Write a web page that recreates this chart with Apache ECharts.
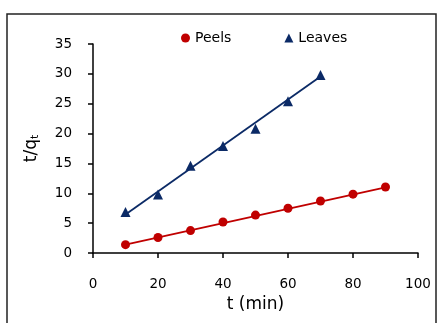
<!DOCTYPE html>
<html><head><meta charset="utf-8">
<script src="https://cdn.jsdelivr.net/npm/echarts@6/dist/echarts.min.js"></script>
<style>html,body{margin:0;padding:0;background:#fff;}#c{width:437px;height:323px;}</style>
</head><body><div id="c"></div>
<script>
const times = [10, 20, 30, 40, 50, 60, 70, 80, 90];
const peelsValues = [1.4, 2.6, 3.75, 5.2, 6.35, 7.5, 8.7, 9.85, 11.05];
const leavesTimes = [10, 20, 30, 40, 50, 60, 70];
const leavesValues = [6.85, 9.8, 14.6, 17.9, 20.8, 25.4, 29.8];
const peelsFitEnds = [[10, 1.4], [90, 11.0]];
const leavesFitEnds = [[10, 6.45], [70, 29.55]];
const xTicks = [0, 20, 40, 60, 80, 100];
const yTicks = [0, 5, 10, 15, 20, 25, 30, 35];

const FONT = 'DejaVu Sans';
const RED = '#C00000';
const NAVY = '#0B2A66';
const chart = echarts.init(document.getElementById('c'), null, {renderer: 'canvas'});
chart.setOption({
  animation: false,
  backgroundColor: '#fff',
  graphic: [{
    type: 'rect', shape: {x: 7, y: 14, width: 429, height: 330},
    style: {fill: 'none', stroke: '#222', lineWidth: 1.5}, z: -1
  }],
  grid: {left: 93, top: 44, right: 19, bottom: 70},
  legend: {
    left: 176, top: 26, itemWidth: 9, itemHeight: 9, itemGap: 53,
    textStyle: {fontFamily: FONT, fontSize: 14, color: '#000'},
    data: [{name: 'Peels', icon: 'circle'}, {name: 'Leaves', icon: 'triangle'}]
  },
  xAxis: {
    type: 'value', min: xTicks[0], max: xTicks[xTicks.length - 1], interval: 20,
    name: 't (min)', nameLocation: 'middle', nameGap: 35,
    nameTextStyle: {fontFamily: FONT, fontSize: 17, color: '#000'},
    axisLine: {show: true, onZero: false, lineStyle: {color: '#000', width: 1.5}},
    axisTick: {show: true, length: 5, lineStyle: {color: '#000', width: 1.5}},
    axisLabel: {margin: 24, fontFamily: FONT, fontSize: 13.5, color: '#000'},
    splitLine: {show: false}
  },
  yAxis: {
    type: 'value', min: yTicks[0], max: yTicks[yTicks.length - 1], interval: 5,
    name: '{m|t/q}{s|t}', nameLocation: 'middle', nameGap: 52,
    nameTextStyle: {fontFamily: FONT, fontSize: 17, color: '#000',
      rich: {m: {fontFamily: FONT, fontSize: 17, color: '#000'},
             s: {fontFamily: FONT, fontSize: 11, color: '#000', verticalAlign: 'bottom', padding: [8, 0, 0, 0]}}},
    axisLine: {show: true, onZero: false, lineStyle: {color: '#000', width: 1.5}},
    axisTick: {show: true, length: 5, lineStyle: {color: '#000', width: 1.5}},
    axisLabel: {margin: 21, fontFamily: FONT, fontSize: 13.5, color: '#000'},
    splitLine: {show: false}
  },
  series: [
    {name: 'PeelsFit', type: 'line', data: peelsFitEnds, showSymbol: false, symbol: 'none',
     lineStyle: {color: RED, width: 1.8}, silent: true, z: 1},
    {name: 'LeavesFit', type: 'line', data: leavesFitEnds, showSymbol: false, symbol: 'none',
     lineStyle: {color: NAVY, width: 1.8}, silent: true, z: 1},
    {name: 'Peels', type: 'scatter', symbol: 'circle', symbolSize: 9,
     itemStyle: {color: RED, opacity: 1}, data: times.map((t, i) => [t, peelsValues[i]]), z: 3},
    {name: 'Leaves', type: 'scatter', symbol: 'triangle', symbolSize: 10,
     itemStyle: {color: NAVY, opacity: 1}, data: leavesTimes.map((t, i) => [t, leavesValues[i]]), z: 3}
  ]
});
</script></body></html>
